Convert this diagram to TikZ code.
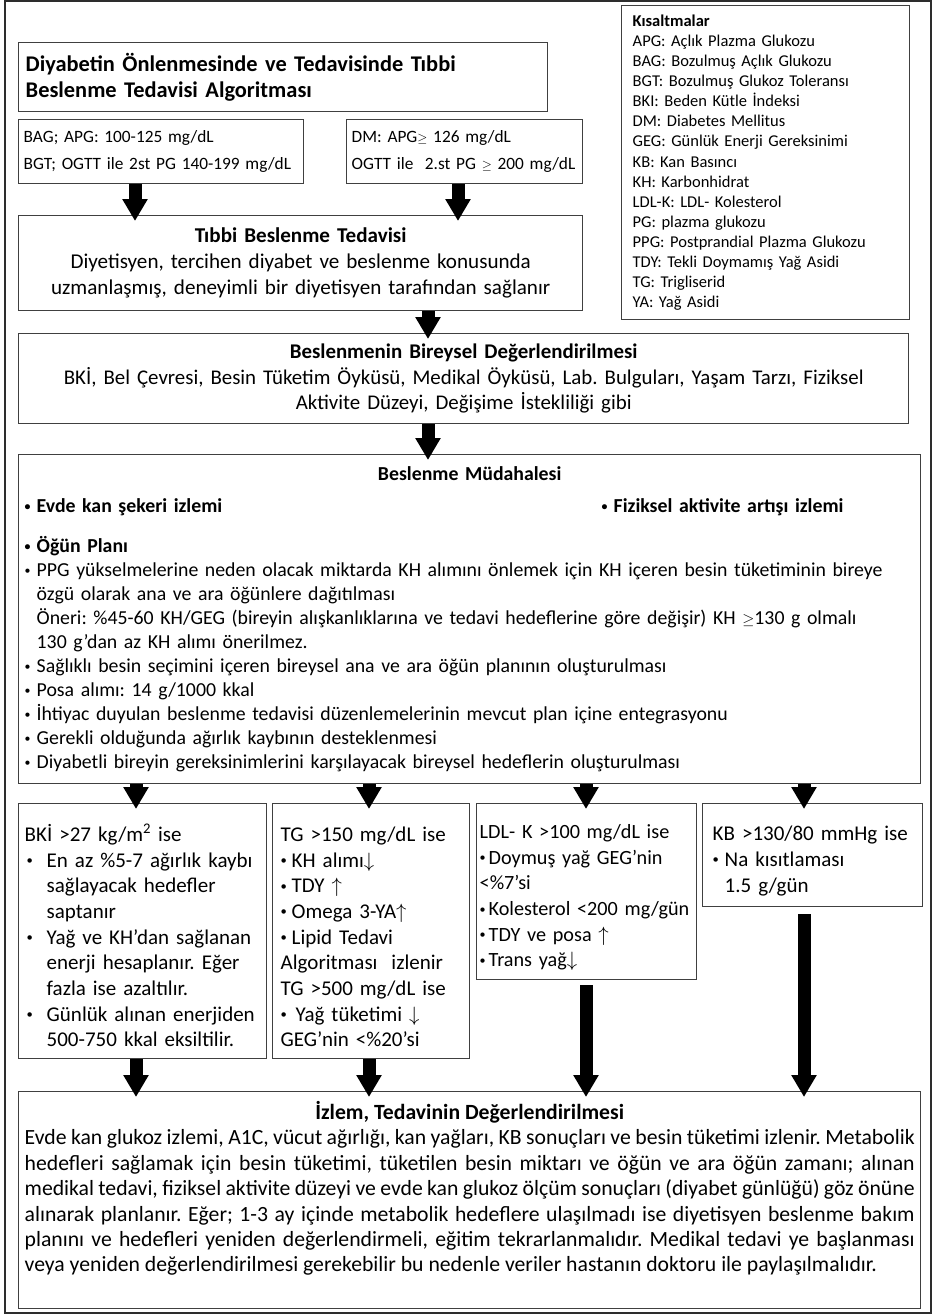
\documentclass[tikz,border=0pt]{standalone}
\usepackage{fontspec}
\usepackage{graphicx}
\setmainfont{Carlito}
\usetikzlibrary{arrows.meta, positioning}
\definecolor{boxgray}{RGB}{64,64,64}
\definecolor{framegray}{RGB}{45,45,45}
\newcommand{\upar}{$\uparrow$}
\newcommand{\dnar}{$\downarrow$}
\newcommand{\gteq}{\scalebox{0.75}{$\geq$}}
\newcommand{\bul}[1]{\makebox[#1][l]{\raisebox{0.12em}{\scalebox{0.6}{\textbullet}}}}
\newcommand{\fsz}[2]{\fontsize{#1}{#2}\selectfont}
\newcommand{\tallstrut}{\rule{0pt}{26pt}}
\hyphenpenalty=10000
\exhyphenpenalty=10000
\frenchspacing
\tikzset{
  leftbox/.style={rectangle, draw=boxgray, line width=1.4pt, anchor=north west,
    align=left, inner ysep=0pt},
  midbox/.style={leftbox, align=center},
  bigarrow/.style={line width=13pt, -{Triangle[width=24pt,length=22pt]}, shorten >=-6pt}
}
\begin{document}
\begin{tikzpicture}[x=1pt, y=-1pt]
  \useasboundingbox (0,0) rectangle (933,1315);
  \draw[framegray, line width=2pt] (5,1) rectangle (931,1313);

  % Abbreviations
  \node[leftbox, text width=266pt, inner xsep=11pt, minimum height=314pt,
    font=\fsz{16.5}{20.1}] (kis) at (621,5) {\textbf{Kısaltmalar}\\
    APG: Açlık Plazma Glukozu\\
    BAG: Bozulmuş Açlık Glukozu\\
    BGT: Bozulmuş Glukoz Toleransı\\
    BKI: Beden Kütle İndeksi\\
    DM: Diabetes Mellitus\\
    GEG: Günlük Enerji Gereksinimi\\
    KB: Kan Basıncı\\
    KH: Karbonhidrat\\
    LDL-K: LDL- Kolesterol\\
    PG: plazma glukozu\\
    PPG: Postprandial Plazma Glukozu\\
    TDY: Tekli Doymamış Yağ Asidi\\
    TG: Trigliserid\\
    YA: Yağ Asidi};

  % Level 1
  \node[leftbox, text width=515pt, inner xsep=7pt, minimum height=69pt,
    font=\fsz{22.4}{26}\bfseries] (title) at (18,42)
    {Diyabetin Önlenmesinde ve Tedavisinde Tıbbi\\Beslenme Tedavisi Algoritması};
  \node[leftbox, text width=275pt, inner xsep=5pt, minimum height=64pt,
    font=\fsz{17.3}{27}] (bag) at (18,119)
    {BAG; APG: 100-125 mg/dL\\BGT; OGTT ile 2st PG 140-199 mg/dL};
  \node[leftbox, text width=226pt, inner xsep=5pt, minimum height=64pt,
    font=\fsz{17.3}{27}] (dm) at (346,119)
    {DM: APG\gteq{} 126 mg/dL\\OGTT ile\ \ 2.st PG \gteq{} 200 mg/dL};

  % Level 2
  \node[midbox, text width=544pt, inner xsep=10pt, minimum height=95pt,
    font=\fsz{21.1}{26}] (tibbi) at (18,215)
    {\textbf{Tıbbi Beslenme Tedavisi}\\
    Diyetisyen, tercihen diyabet ve beslenme konusunda\\
    uzmanlaşmış, deneyimli bir diyetisyen tarafından sağlanır};
  \node[midbox, text width=870pt, inner xsep=10pt, minimum height=90pt,
    font=\fsz{20.9}{25.5}] (bes) at (18,333)
    {\textbf{Beslenmenin Bireysel Değerlendirilmesi}\\
    BKİ, Bel Çevresi, Besin Tüketim Öyküsü, Medikal Öyküsü, Lab. Bulguları, Yaşam Tarzı, Fiziksel\\
    Aktivite Düzeyi, Değişime İstekliliği gibi};

  % Level 3
  \node[leftbox, text width=890pt, inner xsep=6pt, minimum height=329pt,
    font=\fsz{19.8}{24}] (mud) at (18,454)
    {\makebox[\linewidth]{\bfseries Beslenme Müdahalesi}\\[8pt]
    \makebox[577pt][l]{\bfseries\bul{12pt}Evde kan şekeri izlemi}{\bfseries\bul{12pt}Fiziksel aktivite artışı izlemi}\\[16pt]
    {\bfseries\bul{12pt}Öğün Planı}\\
    \bul{12pt}PPG yükselmelerine neden olacak miktarda KH alımını önlemek için KH içeren besin tüketiminin bireye\\
    \hspace*{12pt}özgü olarak ana ve ara öğünlere dağıtılması\\
    \hspace*{12pt}Öneri: \%45-60 KH/GEG (bireyin alışkanlıklarına ve tedavi hedeflerine göre değişir) KH \gteq130 g olmalı\\
    \hspace*{12pt}130 g’dan az KH alımı önerilmez.\\
    \bul{12pt}Sağlıklı besin seçimini içeren bireysel ana ve ara öğün planının oluşturulması\\
    \bul{12pt}Posa alımı: 14 g/1000 kkal\\
    \bul{12pt}İhtiyac duyulan beslenme tedavisi düzenlemelerinin mevcut plan içine entegrasyonu\\
    \bul{12pt}Gerekli olduğunda ağırlık kaybının desteklenmesi\\
    \bul{12pt}Diyabetli bireyin gereksinimlerini karşılayacak bireysel hedeflerin oluşturulması};

  % Level 4
  \node[leftbox, text width=236pt, inner xsep=6pt, minimum height=255pt,
    font=\fsz{21}{25.7}] (b1) at (18,803)
    {\tallstrut BKİ >27 kg/m\textsuperscript{2} ise\\
    \hspace*{2pt}\bul{20pt}En az \%5-7 ağırlık kaybı\\
    \hspace*{22pt}sağlayacak hedefler\\
    \hspace*{22pt}saptanır\\
    \hspace*{2pt}\bul{20pt}Yağ ve KH’dan sağlanan\\
    \hspace*{22pt}enerji hesaplanır. Eğer\\
    \hspace*{22pt}fazla ise azaltılır.\\
    \hspace*{2pt}\bul{20pt}Günlük alınan enerjiden\\
    \hspace*{22pt}500-750 kkal eksiltilir.\\[-8pt]};
  \node[leftbox, text width=181pt, inner xsep=8pt, minimum height=255pt,
    font=\fsz{21}{25.7}] (b2) at (272,803)
    {\tallstrut TG >150 mg/dL ise\\
    \bul{11pt}KH alımı\dnar\\
    \bul{11pt}TDY \upar\\
    \bul{11pt}Omega 3-YA\upar\\
    \bul{11pt}Lipid Tedavi\\
    Algoritması\ \ izlenir\\
    TG >500 mg/dL ise\\
    \bul{15pt}Yağ tüketimi \dnar\\
    GEG’nin <\%20’si\\[-8pt]};
  \node[leftbox, text width=214pt, inner xsep=3pt, minimum height=176pt,
    font=\fsz{20.2}{25.7}] (b3) at (476,803)
    {\tallstrut LDL- K >100 mg/dL ise\\
    \bul{9pt}Doymuş yağ GEG’nin\\
    <\%7’si\\
    \bul{9pt}Kolesterol <200 mg/gün\\
    \bul{9pt}TDY ve posa \upar\\
    \bul{9pt}Trans yağ\dnar\\[-8pt]};
  \node[leftbox, text width=200pt, inner xsep=10pt, minimum height=103pt,
    font=\fsz{21}{25.7}] (b4) at (702,803)
    {\tallstrut KB >130/80 mmHg ise\\
    \bul{12pt}Na kısıtlaması\\
    \hspace*{12pt}1.5 g/gün\\[-8pt]};

  % Level 5
  \node[leftbox, align=justify, text width=890pt, inner xsep=6pt, minimum height=217pt,
    font=\fsz{21.7}{25.4}] (fin) at (18,1091)
    {\centerline{\bfseries İzlem, Tedavinin Değerlendirilmesi}
    \noindent Evde kan glukoz izlemi, A1C, vücut ağırlığı, kan yağları, KB sonuçları ve besin tüketimi izlenir. Metabolik\linebreak
    hedefleri sağlamak için besin tüketimi, tüketilen besin miktarı ve öğün ve ara öğün zamanı; alınan\linebreak
    medikal tedavi, fiziksel aktivite düzeyi ve evde kan glukoz ölçüm sonuçları (diyabet günlüğü) göz önüne\linebreak
    alınarak planlanır. Eğer; 1-3 ay içinde metabolik hedeflere ulaşılmadı ise diyetisyen beslenme bakım\linebreak
    planını ve hedefleri yeniden değerlendirmeli, eğitim tekrarlanmalıdır. Medikal tedavi ye başlanması\linebreak
    veya yeniden değerlendirilmesi gerekebilir bu nedenle veriler hastanın doktoru ile paylaşılmalıdır.\rule[-27pt]{0pt}{0pt}};

  % Connections
  \draw[bigarrow] ([xshift=117pt]bag.south west) -- ([xshift=117pt]bag.south west |- tibbi.north);
  \draw[bigarrow] ([xshift=112pt]dm.south west) -- ([xshift=112pt]dm.south west |- tibbi.north);
  \draw[bigarrow] ([xshift=410pt]tibbi.south west) -- ([xshift=410pt]tibbi.south west |- bes.north);
  \draw[bigarrow] ([xshift=410pt]bes.south west) -- ([xshift=410pt]bes.south west |- mud.north);
  \draw[bigarrow] ([xshift=118pt]b1.north west |- mud.south) -- ([xshift=118pt]b1.north west);
  \draw[bigarrow] ([xshift=97pt]b2.north west |- mud.south) -- ([xshift=97pt]b2.north west);
  \draw[bigarrow] ([xshift=110pt]b3.north west |- mud.south) -- ([xshift=110pt]b3.north west);
  \draw[bigarrow] ([xshift=102pt]b4.north west |- mud.south) -- ([xshift=102pt]b4.north west);
  \draw[bigarrow] ([xshift=118pt]b1.south west) -- ([xshift=118pt]b1.south west |- fin.north);
  \draw[bigarrow] ([xshift=97pt]b2.south west) -- ([xshift=97pt]b2.south west |- fin.north);
  \draw[bigarrow, shorten <=5pt] ([xshift=110pt]b3.south west) -- ([xshift=110pt]b3.south west |- fin.north);
  \draw[bigarrow, shorten <=7pt] ([xshift=102pt]b4.south west) -- ([xshift=102pt]b4.south west |- fin.north);
\end{tikzpicture}
\end{document}
